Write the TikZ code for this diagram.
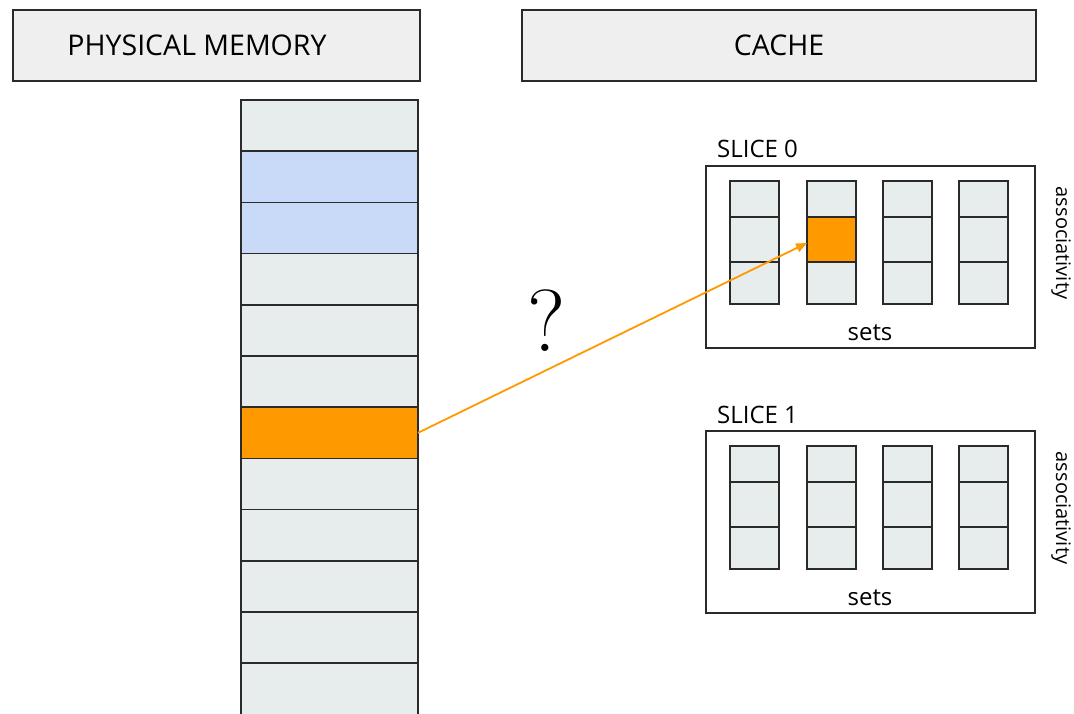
\documentclass[tikz,border=0pt]{standalone}
\usepackage{fontspec}
\setsansfont{Open Sans}
\usetikzlibrary{arrows.meta}

\definecolor{hdgray}{HTML}{EFEFEF}
\definecolor{memgray}{HTML}{E7ECEC}
\definecolor{memblue}{HTML}{C9DAF8}
\definecolor{hitorange}{HTML}{FF9900}
\definecolor{linegray}{HTML}{2A2A2A}

\begin{document}
\begin{tikzpicture}[x=1pt,y=-1pt, every node/.style={font=\sffamily}]
  \tikzset{
    head/.style={draw=linegray, line width=1.3pt, fill=hdgray, minimum width=#1,
      minimum height=71pt, inner sep=0pt, outer sep=0pt,
      font=\sffamily\fontsize{28.5}{32}\selectfont},
    memrow/.style={draw=linegray, line width=1.5pt, minimum width=177pt,
      minimum height=51.2pt, inner sep=0pt, outer sep=0pt},
    cell/.style={draw=linegray, line width=1.5pt, fill=memgray, minimum width=49pt,
      minimum height=#1, inner sep=0pt, outer sep=0pt},
    slicebox/.style={draw=linegray, line width=1.3pt, minimum width=329pt,
      minimum height=182pt, inner sep=0pt, outer sep=0pt},
    lbl/.style={inner sep=0pt, font=\sffamily\fontsize{24}{28}\selectfont},
    assoc/.style={inner sep=0pt, font=\sffamily\fontsize{20}{24}\selectfont},
    hitarrow/.style={draw=hitorange, line width=1.8pt,
      -{Triangle[length=11pt,width=9pt]}},
  }
  \useasboundingbox (0,0) rectangle (1074,714);

  \newcommand{\cacheslice}[2]{
    \begin{scope}[yshift=-#2pt]
      \node[slicebox] (s#1) at (870.5,257) {};
      \node[lbl, anchor=base west] (s#1lbl) at (717,158) {SLICE #1};
      \node[lbl, anchor=base] (s#1sets) at (870,340) {sets};
      \node[assoc, rotate=-90] (s#1assoc) at (1061,243) {associativity};
      \foreach \j/\cx in {1/754.5,2/831.5,3/907.5,4/983.5} {
        \node[cell=36pt] (s#1c\j a) at (\cx,199) {};
        \node[cell=45pt] (s#1c\j b) at (\cx,239.5) {};
        \node[cell=42pt] (s#1c\j c) at (\cx,283) {};
      }
    \end{scope}
  }

  % headers
  \node[head=407pt] (hmem) at (216.5,45.5) {PHYSICAL MEMORY\hspace*{39pt}};
  \node[head=514pt] (hcache) at (779,45.5) {CACHE};

  % memory lines
  \foreach \i/\c in {1/memgray,2/memblue,3/memblue,4/memgray,5/memgray,6/memgray,
      7/hitorange,8/memgray,9/memgray,10/memgray,11/memgray,12/memgray}
    \node[memrow, fill=\c] (m\i) at (329.5,{100+(\i-0.5)*51.2}) {};

  % slices
  \cacheslice{0}{0}
  \cacheslice{1}{265}
  \node[cell=45pt, fill=hitorange, line width=2pt] (hit) at (s0c2b) {};

  \node[inner sep=0pt, font=\rmfamily\fontsize{88}{88}\selectfont] (q) at (547,320.5) {?};
  \draw[hitarrow] (m7.east) -- ([yshift=-3.5pt]hit.west);
\end{tikzpicture}
\end{document}
